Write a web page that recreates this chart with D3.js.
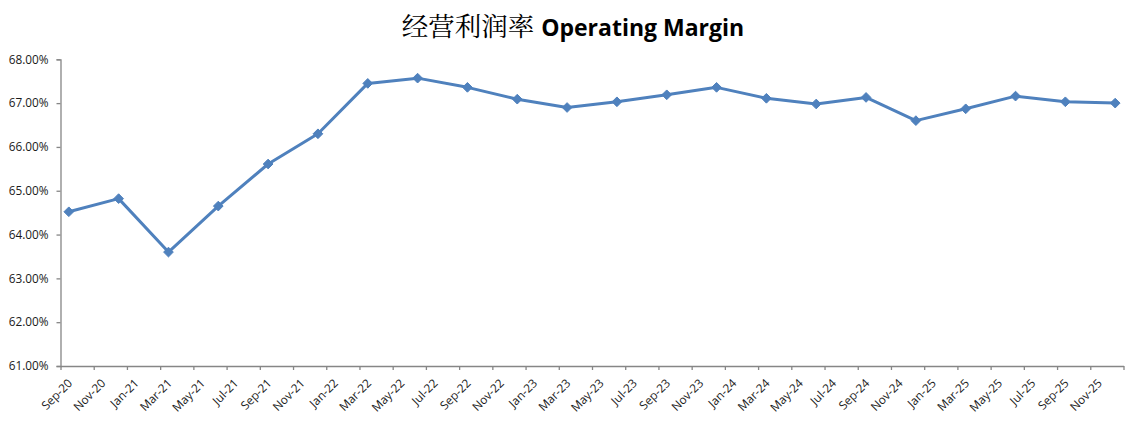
<!DOCTYPE html>
<html>
<head>
<meta charset="utf-8">
<script src="https://cdn.jsdelivr.net/npm/d3@7"></script>
<style>
  html, body { margin: 0; padding: 0; background: #fff; }
  svg { display: block; }
</style>
</head>
<body>
<svg id="chart" width="1147" height="423"></svg>
<script>
// ---- data ----
const periods = ["Sep-20","Dec-20","Mar-21","Jun-21","Sep-21","Dec-21","Mar-22","Jun-22","Sep-22","Dec-22","Mar-23","Jun-23","Sep-23","Dec-23","Mar-24","Jun-24","Sep-24","Dec-24","Mar-25","Jun-25","Sep-25","Dec-25"];
const margins = [64.52, 64.82, 63.60, 64.65, 65.61, 66.30, 67.45, 67.57, 67.36, 67.09, 66.90, 67.03, 67.19, 67.36, 67.11, 66.98, 67.13, 66.60, 66.87, 67.16, 67.03, 67.00];
const xTickLabels = ["Sep-20","Nov-20","Jan-21","Mar-21","May-21","Jul-21","Sep-21","Nov-21","Jan-22","Mar-22","May-22","Jul-22","Sep-22","Nov-22","Jan-23","Mar-23","May-23","Jul-23","Sep-23","Nov-23","Jan-24","Mar-24","May-24","Jul-24","Sep-24","Nov-24","Jan-25","Mar-25","May-25","Jul-25","Sep-25","Nov-25","Jan-26"];
const yTicks = [61, 62, 63, 64, 65, 66, 67, 68];
const titleCn = "经营利润率";
const titleEn = "Operating Margin";

// ---- helpers ----
const MONTHS = ["Jan","Feb","Mar","Apr","May","Jun","Jul","Aug","Sep","Oct","Nov","Dec"];
function monthIndex(s) {
  const [m, yy] = s.split("-");
  return (2000 + +yy) * 12 + MONTHS.indexOf(m);
}
const m0 = monthIndex(xTickLabels[0]);
const m1 = monthIndex(xTickLabels[xTickLabels.length - 1]);

const svg = d3.select("#chart");
const plotLeft = 60.5, plotRight = 1123.5, plotTop = 59.3, plotBottom = 366;

const x = d3.scaleLinear().domain([m0, m1]).range([plotLeft, plotRight]);
const y = d3.scaleLinear().domain([61, 68]).range([plotBottom, plotTop]);

const axisColor = "#868686";
const textColor = "#1a1a1a";
const lineColor = "#4F81BD";
const labelFont = "'Open Sans','Liberation Sans',sans-serif";

// ---- title ----
const title = svg.append("text")
  .attr("x", 573).attr("y", 36)
  .attr("text-anchor", "middle")
  .attr("fill", "#000");
title.append("tspan")
  .attr("font-family", "'Noto Serif CJK SC','Noto Sans CJK SC',serif")
  .attr("font-size", 26.5)
  .text(titleCn + " ");
title.append("tspan")
  .attr("font-family", labelFont)
  .attr("font-weight", "bold")
  .attr("font-size", 23)
  .text(titleEn);

// ---- y axis ----
const yAxis = d3.axisLeft(y)
  .tickValues(yTicks)
  .tickSize(4)
  .tickPadding(8)
  .tickFormat(d => d.toFixed(2) + "%");
const gy = svg.append("g").attr("transform", `translate(${plotLeft},0)`).call(yAxis);
gy.select(".domain").attr("stroke", axisColor).attr("stroke-width", 1.3);
gy.selectAll(".tick line").attr("stroke", axisColor).attr("stroke-width", 1.3);
gy.selectAll(".tick text")
  .attr("fill", textColor)
  .attr("font-family", labelFont)
  .attr("font-size", 11.8);

// ---- x axis ----
const xTickVals = xTickLabels.map(monthIndex);
const xAxis = d3.axisBottom(x)
  .tickValues(xTickVals)
  .tickSize(4)
  .tickSizeOuter(0)
  .tickFormat((d, i) => i === xTickLabels.length - 1 ? "" : xTickLabels[i]);
const gx = svg.append("g").attr("transform", `translate(0,${plotBottom})`).call(xAxis);
gx.select(".domain").attr("stroke", axisColor).attr("stroke-width", 1.3);
gx.selectAll(".tick line").attr("stroke", axisColor).attr("stroke-width", 1.3);
gx.selectAll(".tick text")
  .attr("fill", textColor)
  .attr("font-family", labelFont)
  .attr("font-size", 11.8)
  .attr("text-anchor", "end")
  .attr("dy", 0)
  .attr("y", 0)
  .attr("transform", "translate(12,18) rotate(-45)");

// ---- line ----
const pts = periods.map((p, i) => ({ m: monthIndex(p) + 0.5, v: margins[i] }));
const line = d3.line().x(d => x(d.m)).y(d => y(d.v));
svg.append("path")
  .datum(pts)
  .attr("d", line)
  .attr("fill", "none")
  .attr("stroke", lineColor)
  .attr("stroke-width", 3)
  .attr("stroke-linejoin", "round");

// ---- markers (diamonds) ----
const diamond = d3.symbol().type(d3.symbolDiamond2).size(60);
svg.append("g").selectAll("path")
  .data(pts)
  .join("path")
  .attr("transform", d => `translate(${x(d.m)},${y(d.v)})`)
  .attr("d", diamond)
  .attr("fill", lineColor)
  .attr("stroke", lineColor)
  .attr("stroke-width", 1);
</script>
</body>
</html>
